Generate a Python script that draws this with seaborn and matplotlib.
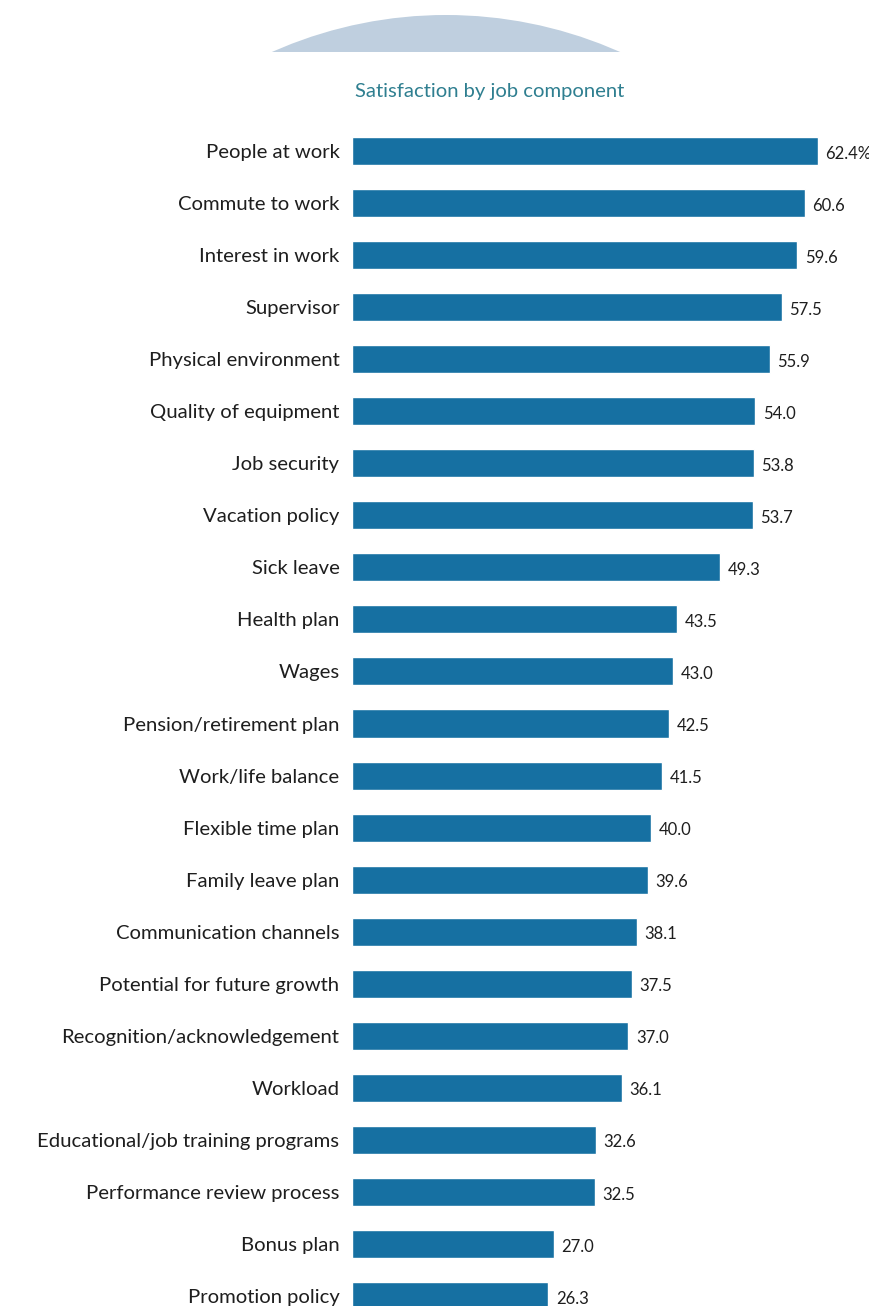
import matplotlib
matplotlib.use("Agg")
import matplotlib.pyplot as plt
import matplotlib.patches as mpatches
import seaborn as sns
import pandas as pd

categories = [
    "People at work", "Commute to work", "Interest in work", "Supervisor",
    "Physical environment", "Quality of equipment", "Job security",
    "Vacation policy", "Sick leave", "Health plan", "Wages",
    "Pension/retirement plan", "Work/life balance", "Flexible time plan",
    "Family leave plan", "Communication channels", "Potential for future growth",
    "Recognition/acknowledgement", "Workload", "Educational/job training programs",
    "Performance review process", "Bonus plan", "Promotion policy",
]
values = [62.4, 60.6, 59.6, 57.5, 55.9, 54.0, 53.8, 53.7, 49.3, 43.5, 43.0,
          42.5, 41.5, 40.0, 39.6, 38.1, 37.5, 37.0, 36.1, 32.6, 32.5, 27.0, 26.3]
value_labels = ["62.4%"] + [f"{v:.1f}" for v in values[1:]]
title = "Satisfaction by job component"

df = pd.DataFrame({"category": categories, "value": values})

sns.set_theme(style="white")
plt.rcParams["font.family"] = ["Lato", "DejaVu Sans"]

W, H = 870, 1306
fig = plt.figure(figsize=(W / 100, H / 100), dpi=100)
fig.patch.set_facecolor("white")

# decorative arc at top
bg = fig.add_axes([0, 0, 1, 1], zorder=-1)
bg.set_xlim(0, W)
bg.set_ylim(H, 0)
bg.axis("off")
R = 428
circ = mpatches.Circle((446, 15 + R), R, facecolor="#bfcfdf", edgecolor="none")
bg.add_patch(circ)
clip = mpatches.Rectangle((0, 0), W, 52, transform=bg.transData)
circ.set_clip_path(clip)

bar_left_px = 352
px_per_unit = 7.47
top_px = 125
spacing = 52
ax = fig.add_axes([bar_left_px / W, 0, 1 - bar_left_px / W, (H - top_px) / H])
sns.barplot(data=df, y="category", x="value", orient="h", color="#1670a2",
            saturation=1, width=28 / spacing, ax=ax)
ax.set_xlim(0, (W - bar_left_px) / px_per_unit)
ax.set_ylim((H - 152) / spacing, -0.5)
ax.set_xlabel("")
ax.set_ylabel("")
ax.set_xticks([])
for s in ax.spines.values():
    s.set_visible(False)
ax.tick_params(axis="y", length=0, pad=9, labelsize=14.6, labelcolor="#1e1e1e")
ax.set_facecolor("none")

for i, (v, lab) in enumerate(zip(values, value_labels)):
    ax.text(v + 1.0, i + 0.05, lab, va="center", ha="left", fontsize=12,
            color="#1e1e1e", clip_on=False, fontstretch="condensed")

fig.text(490 / W, 1 - 92 / H, title, ha="center", va="center",
         fontsize=14.6, color="#2f7f90")

fig.savefig("out.png", dpi=100)
